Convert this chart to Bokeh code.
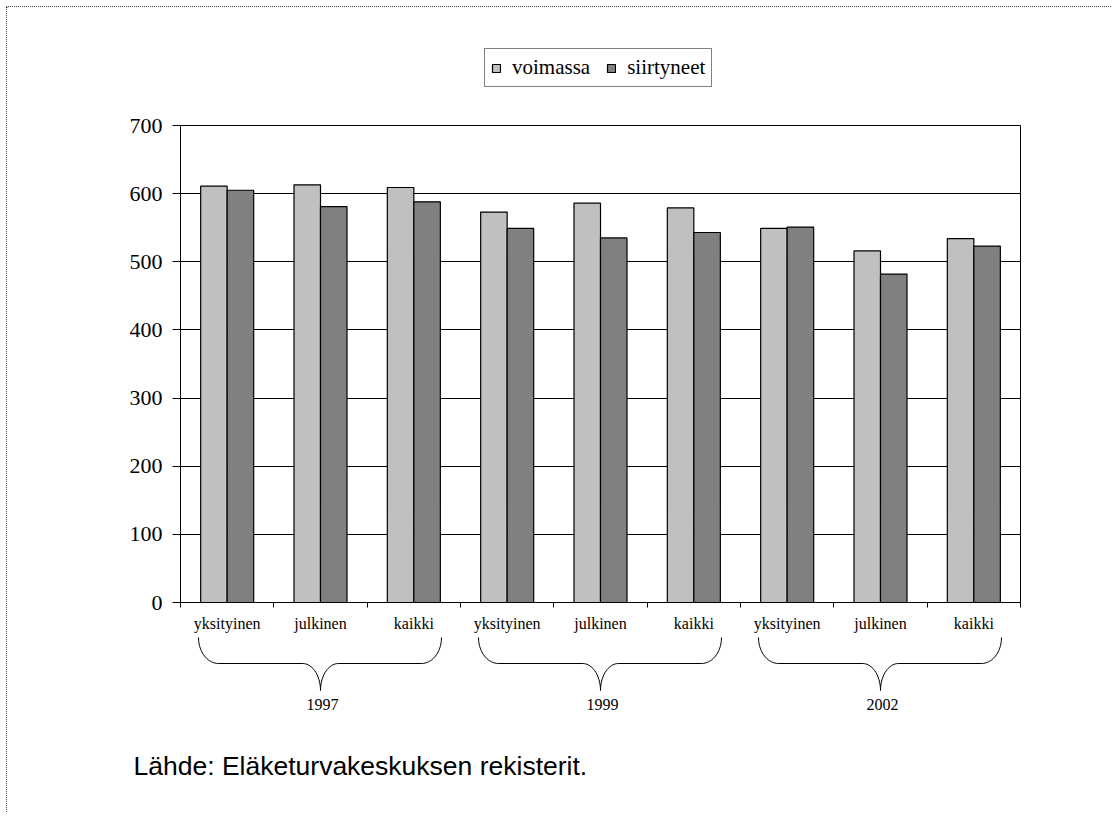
import numpy as np
from bokeh.plotting import figure
from bokeh.layouts import column
from bokeh.models import Range1d, FixedTicker, Legend, LegendItem
from bokeh.core.properties import value
from bokeh.embed import file_html
from bokeh.resources import INLINE

# ---------------- data ----------------
categories = ["yksityinen", "julkinen", "kaikki"]
years = ["1997", "1999", "2002"]
series_names = ["voimassa", "siirtyneet"]
voimassa = [611, 613, 609, 573, 586, 579, 549, 516, 534]
siirtyneet = [605, 581, 588, 549, 535, 543, 551, 482, 523]
y_ticks = [0, 100, 200, 300, 400, 500, 600, 700]
source_note = "Lähde: Eläketurvakeskuksen rekisterit."

colors = ["#C0C0C0", "#808080"]

# ---------------- geometry (page pixels) ----------------
OX, OY = 7, 7        # content origin inside the dotted border
W = 1104
TOP_END = 100        # legend strip ends here
SPLIT = 636          # main chart ends here
TOTAL_END = 812
FRAME_L, FRAME_R = 180, 1020
FRAME_T, FRAME_B = 125, 602
n_cat = len(categories) * len(years)
Y_MAX = y_ticks[-1]
PX_X = (FRAME_R - FRAME_L) / n_cat


def ux(page_x):
    """page x pixel -> category units"""
    return (page_x - FRAME_L) / PX_X


common = dict(output_backend="svg", toolbar_location=None, title=None)

# ---------------- legend strip ----------------
t = figure(width=W, height=TOP_END - OY, x_range=Range1d(0, W), y_range=Range1d(TOP_END, OY),
           x_axis_location=None, y_axis_location=None, min_border=0, **common)
t.frame_align = False
t.grid.visible = False
t.outline_line_color = None
d1 = t.vbar(x=[-500], top=[1], width=1, fill_color=colors[0], line_color="black", line_width=1.2)
d2 = t.vbar(x=[-500], top=[1], width=1, fill_color=colors[1], line_color="black", line_width=1.2)
legend = Legend(items=[LegendItem(label=series_names[0], renderers=[d1]),
                       LegendItem(label=series_names[1], renderers=[d2])],
                orientation="horizontal", location=(484 - OX, TOP_END - 87),
                border_line_color="black", border_line_width=1,
                background_fill_color="white", background_fill_alpha=1,
                glyph_width=10, glyph_height=10, label_standoff=11, spacing=16,
                padding=6, label_text_font="Liberation Serif",
                label_text_font_size="21px", label_text_color="black",
                label_height=20, margin=0)
t.add_layout(legend, "center")

# ---------------- main chart ----------------
p = figure(width=W, height=SPLIT - TOP_END, x_range=Range1d(0, n_cat), y_range=Range1d(0, Y_MAX),
           min_border_left=FRAME_L - OX, min_border_right=OX + W - FRAME_R,
           min_border_top=FRAME_T - TOP_END, min_border_bottom=SPLIT - FRAME_B, **common)
p.frame_align = False
p.background_fill_color = "white"
p.border_fill_color = "white"
p.outline_line_color = "black"
p.outline_line_width = 1

centers = [i + 0.5 for i in range(n_cat)]
bw = 0.284
r1 = p.vbar(x=[c - bw / 2 for c in centers], top=voimassa, width=bw, bottom=0,
            fill_color=colors[0], line_color="black", line_width=1.2)
r2 = p.vbar(x=[c + bw / 2 for c in centers], top=siirtyneet, width=bw, bottom=0,
            fill_color=colors[1], line_color="black", line_width=1.2)

p.xgrid.visible = False
p.ygrid.ticker = FixedTicker(ticks=y_ticks)
p.ygrid.grid_line_color = "black"
p.ygrid.grid_line_width = 1

yax = p.yaxis[0]
yax.ticker = FixedTicker(ticks=y_ticks)
yax.major_tick_out = 8
yax.major_tick_in = 0
yax.minor_tick_out = 0
yax.minor_tick_in = 0
yax.major_label_standoff = 10
yax.major_label_text_font = "Liberation Serif"
yax.major_label_text_font_size = "22px"
yax.major_label_text_color = "black"
yax.axis_line_color = "black"
yax.major_tick_line_color = "black"

xax = p.xaxis[0]
xax.ticker = FixedTicker(ticks=centers, minor_ticks=list(range(n_cat + 1)))
xax.major_label_overrides = {c: categories[i % len(categories)] for i, c in enumerate(centers)}
xax.major_tick_out = 0
xax.major_tick_in = 0
xax.minor_tick_out = 5
xax.minor_tick_in = 0
xax.minor_tick_line_color = "black"
xax.major_label_standoff = 7
xax.major_label_text_font = "Liberation Serif"
xax.major_label_text_font_size = "16px"
xax.major_label_text_color = "black"
xax.axis_line_color = "black"

# ---------------- braces, years, source ----------------
q = figure(width=W, height=TOTAL_END - SPLIT, x_range=Range1d(ux(OX), ux(OX + W)),
           y_range=Range1d(TOTAL_END, SPLIT),
           x_axis_location=None, y_axis_location=None, min_border=0, **common)
q.frame_align = False
q.grid.visible = False
q.outline_line_color = None


def brace_path(x0, x1, cx, ytop, ymid, ybot, r=20, w=18):
    tt = np.linspace(0, np.pi / 2, 16)
    xs, ys = [], []
    xs += list(x0 + r - r * np.cos(tt)); ys += list(ytop + (ymid - ytop) * np.sin(tt))
    xs += list(cx - w + w * np.sin(tt)); ys += list(ymid + (ybot - ymid) * (1 - np.cos(tt)))
    xs += list(cx + w - w * np.cos(tt)); ys += list(ybot - (ybot - ymid) * np.sin(tt))
    xs += list(x1 - r + r * np.sin(tt)); ys += list(ymid - (ymid - ytop) * (1 - np.cos(tt)))
    return xs, ys


bxs, bys, yx = [], [], []
for g, yr in enumerate(years):
    gc = len(categories) * g + len(categories) / 2
    cx_px = FRAME_L + gc * PX_X
    xs, ys = brace_path(cx_px - 122, cx_px + 121, cx_px, 637, 663, 690)
    bxs.append([ux(v) for v in xs])
    bys.append(ys)
    yx.append(ux(cx_px + 2))

q.multi_line(xs=bxs, ys=bys, line_color="black", line_width=1)
q.text(x=yx, y=[704] * len(years), text=years, text_align="center",
       text_baseline="middle", text_font=value("Liberation Serif"),
       text_font_size=value("16px"), text_color="black")
q.text(x=[ux(133)], y=[765], text=[source_note], text_align="left",
       text_baseline="middle", text_font=value("Liberation Sans"),
       text_font_size=value("26.5px"), text_color="black")

layout = column(t, p, q, spacing=0,
                styles={"margin-left": "6px", "margin-top": "6px",
                        "border-left": "1px dotted #444444",
                        "border-top": "1px dotted #444444"})

open("out.html", "w").write(file_html(layout, INLINE))
